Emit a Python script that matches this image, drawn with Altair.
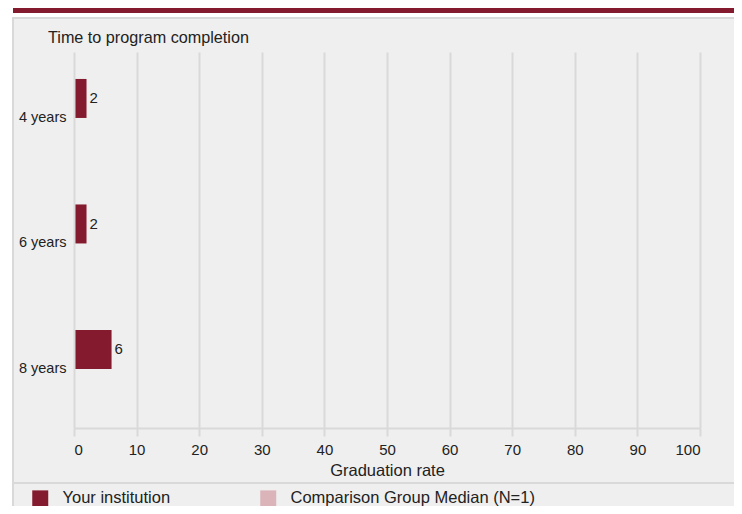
import altair as alt
import pandas as pd

categories = ["4 years", "6 years", "8 years"]
series = ["Your institution", "Comparison Group Median (N=1)"]
your_values = [2, 2, 6]
comparison_values = [None, None, None]
x_ticks = [0, 10, 20, 30, 40, 50, 60, 70, 80, 90, 100]
chart_title = "Time to program completion"

rows = []
for c, v in zip(categories, your_values):
    rows.append({"category": c, "series": series[0], "value": v})
for c, v in zip(categories, comparison_values):
    rows.append({"category": c, "series": series[1], "value": v})
df = pd.DataFrame(rows)
labels_df = df[df["series"] == series[0]]

FONT = "Liberation Sans"
RED = "#841a2d"
PINK = "#dbb4ba"
GRID = "#d9d9d9"
BG = "#efefef"
TXT = "#222222"

one = pd.DataFrame({"t": [chart_title]})

panel = alt.Chart(one).mark_rect(fill=BG, stroke=GRID, strokeWidth=2).encode(
    x=alt.value(-61), x2=alt.value(700), y=alt.value(-34), y2=alt.value(480)
)
band = alt.Chart(one).mark_rect(fill=RED).encode(
    x=alt.value(-61), x2=alt.value(700), y=alt.value(-44), y2=alt.value(-39)
)
sep = alt.Chart(one).mark_rule(color=GRID, strokeWidth=2).encode(
    x=alt.value(-61), x2=alt.value(700), y=alt.value(431)
)
title = alt.Chart(one).mark_text(align="left", baseline="middle", fontSize=16.2,
                                 font=FONT, color=TXT).encode(
    x=alt.value(-26), y=alt.value(-14), text="t:N"
)

y_enc = alt.Y(
    "category:N",
    sort=categories,
    title=None,
    scale=alt.Scale(paddingInner=0.378, paddingOuter=0.187, align=0.574),
    axis=alt.Axis(ticks=False, domain=False, labelPadding=8, labelFontSize=14.5,
                  labelColor=TXT, labelFont=FONT, zindex=1),
)
x_enc = alt.X(
    "value:Q",
    title="Graduation rate",
    scale=alt.Scale(domain=[0, 100], nice=False),
    axis=alt.Axis(values=x_ticks, grid=True, gridColor=GRID, gridWidth=2,
                  domainColor=GRID, domainWidth=2, tickColor=GRID, tickWidth=2,
                  tickSize=8, labelFontSize=15, labelColor=TXT, labelFont=FONT,
                  labelPadding=6, titleFontSize=16.5, titleFontWeight="normal",
                  titleColor=TXT, titleFont=FONT, titlePadding=5, zindex=1),
)

bars = alt.Chart(df).mark_bar(size=39).encode(
    x=x_enc,
    y=y_enc,
    yOffset=alt.YOffset("series:N", sort=series, scale=alt.Scale(paddingInner=0, paddingOuter=0)),
    color=alt.Color(
        "series:N",
        scale=alt.Scale(domain=series, range=[RED, PINK]),
        legend=alt.Legend(
            title=None, orient="none", legendX=-42, legendY=438, direction="horizontal",
            symbolType="square", symbolSize=256, symbolStrokeWidth=0, symbolOpacity=1,
            labelFontSize=16.5, labelColor=TXT, labelFont=FONT, labelOffset=14,
            labelLimit=400, columnPadding=89,
        ),
    ),
)

texts = alt.Chart(labels_df).mark_text(align="left", dx=3, fontSize=15, font=FONT, color=TXT).encode(
    x=alt.X("value:Q"),
    y=alt.Y("category:N", sort=categories),
    yOffset=alt.YOffset("series:N", sort=series),
    text=alt.Text("value:Q"),
)

chart = alt.layer(panel, band, sep, title, bars, texts).properties(
    width=626,
    height=376,
    autosize=alt.AutoSizeParams(type="none"),
    padding={"left": 66, "top": 44, "right": 34, "bottom": 78},
    background="white",
).configure_view(stroke=None)

chart.save("out.html", embed_options={"renderer": "svg", "actions": False})
